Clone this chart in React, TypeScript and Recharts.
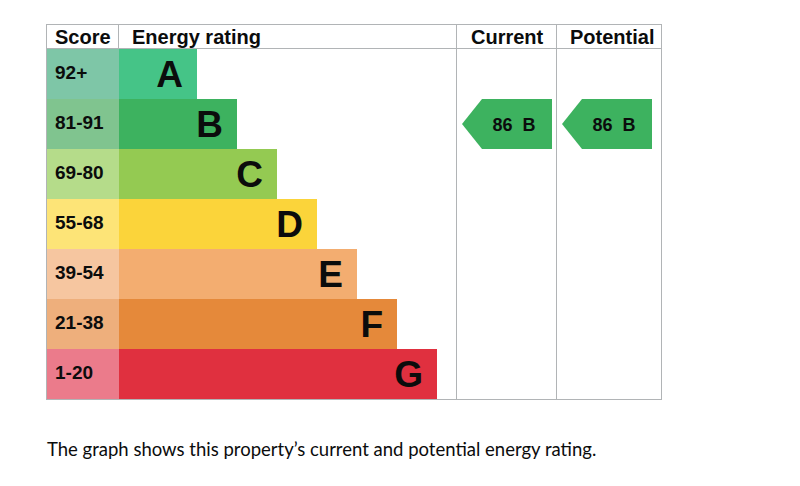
import React from "react";
import { BarChart, Bar, XAxis, YAxis, Cell, LabelList } from "recharts";

// bands, top to bottom
const bands = ["A", "B", "C", "D", "E", "F", "G"];
const scoreRanges = ["92+", "81-91", "69-80", "55-68", "39-54", "21-38", "1-20"];
// length of each rating bar (in px-sized units of the x axis)
const barLengths = [78, 118, 158, 198, 238, 278, 318];
const bandColors = ["#45c487", "#3db25f", "#94ca52", "#fbd43a", "#f3ad70", "#e5893a", "#e0303f"];
const scoreColors = ["#7ec6a7", "#80c48f", "#b5dc8a", "#fde477", "#f6c6a0", "#eeaf7c", "#eb7b8b"];

const currentRating = { score: 86, band: "B" };
const potentialRating = { score: 86, band: "B" };

// column widths on the same x axis
const scoreColWidth = 72;
const ratingColWidth = 338;
const currentColWidth = 100;
const potentialColWidth = 104;

const W = 800;
const H = 486;
const LEFT = 47;
const TOP = 24;
const HEADER = 25;
const GRID = "#b1b4b6";
const FONT = "Arial, 'Liberation Sans', sans-serif";

const currentStart = ratingColWidth;
const potentialStart = ratingColWidth + currentColWidth;
const totalWidth = ratingColWidth + currentColWidth + potentialColWidth;

const data = bands.map((band, i) => ({
  band,
  range: scoreRanges[i],
  score: [-scoreColWidth, 0],
  rating: barLengths[i],
  current: band === currentRating.band ? [currentStart + 5, currentStart + currentColWidth - 5] : null,
  potential: band === potentialRating.band ? [potentialStart + 5, potentialStart + potentialColWidth - 9] : null,
  color: bandColors[i],
  light: scoreColors[i],
}));

const Arrow = (rating: { score: number; band: string }) => (props: any) => {
  const { x, y, width, height, payload } = props;
  if (!width || !height) return null;
  const tip = 20;
  const pts = [
    [x, y + height / 2],
    [x + tip, y],
    [x + width, y],
    [x + width, y + height],
    [x + tip, y + height],
  ]
    .map((p) => p.join(","))
    .join(" ");
  return (
    <g>
      <polygon points={pts} fill={payload.color} />
      <text
        x={x + width / 2 + 7}
        y={y + height / 2 + 7}
        textAnchor="middle"
        fontFamily={FONT}
        fontWeight="bold"
        fontSize={18}
        fill="#0b0c0c"
      >
        {`${rating.score}\u00a0\u00a0${rating.band}`}
      </text>
    </g>
  );
};

const LetterLabel = (props: any) => {
  const { x, y, width, height, value } = props;
  return (
    <text
      x={x + width - 14}
      y={y + height / 2 + 13}
      textAnchor="end"
      fontFamily={FONT}
      fontWeight="bold"
      fontSize={37}
      fill="#0b0c0c"
    >
      {value}
    </text>
  );
};

const RangeLabel = (props: any) => {
  const { x, y, height, value } = props;
  return (
    <text x={x + 8} y={y + height / 2 + 5} fontFamily={FONT} fontWeight="bold" fontSize={19} fill="#0b0c0c">
      {value}
    </text>
  );
};

const line = (style: React.CSSProperties): React.CSSProperties => ({
  position: "absolute",
  background: GRID,
  ...style,
});

const headText = (left: number, label: string) => (
  <div
    style={{
      position: "absolute",
      left,
      top: TOP + 1,
      height: HEADER - 1,
      lineHeight: `${HEADER - 1}px`,
      fontFamily: FONT,
      fontWeight: "bold",
      fontSize: 20,
      color: "#0b0c0c",
    }}
  >
    {label}
  </div>
);

export default function App() {
  const plotLeft = LEFT + scoreColWidth;
  const frameWidth = scoreColWidth + totalWidth;
  const rowsTop = TOP + HEADER;
  const rowsHeight = bands.length * 50;
  const bottom = rowsTop + rowsHeight;

  return (
    <div style={{ position: "absolute", left: 0, top: 0, width: W, height: H, background: "#fff" }}>
      {/* table frame and column rules */}
      <div style={line({ left: LEFT, top: TOP, width: frameWidth, height: 1 })} />
      <div style={line({ left: LEFT, top: rowsTop - 1, width: frameWidth, height: 1 })} />
      <div style={line({ left: LEFT, top: bottom, width: frameWidth, height: 1 })} />
      <div style={line({ left: LEFT - 1, top: TOP, width: 1, height: bottom - TOP + 1 })} />
      <div style={line({ left: plotLeft - 1, top: TOP, width: 1, height: HEADER })} />
      <div style={line({ left: plotLeft + currentStart - 1, top: TOP, width: 1, height: bottom - TOP + 1 })} />
      <div style={line({ left: plotLeft + potentialStart - 1, top: TOP, width: 1, height: bottom - TOP + 1 })} />
      <div style={line({ left: LEFT + frameWidth, top: TOP, width: 1, height: bottom - TOP + 1 })} />

      {headText(LEFT + 8, "Score")}
      {headText(plotLeft + 13, "Energy rating")}
      {headText(plotLeft + currentStart + 14, "Current")}
      {headText(plotLeft + potentialStart + 13, "Potential")}

      <div style={{ position: "absolute", left: 0, top: 0 }}>
        <BarChart
          width={W}
          height={H}
          data={data}
          layout="vertical"
          barCategoryGap={0}
          margin={{ top: rowsTop, left: LEFT, right: W - LEFT - frameWidth, bottom: H - bottom }}
        >
          <XAxis type="number" domain={[-scoreColWidth, totalWidth]} hide allowDataOverflow />
          <YAxis yAxisId="score" type="category" dataKey="band" hide />
          <YAxis yAxisId="rating" type="category" dataKey="band" hide />
          <YAxis yAxisId="current" type="category" dataKey="band" hide />
          <YAxis yAxisId="potential" type="category" dataKey="band" hide />
          <Bar yAxisId="score" dataKey="score" isAnimationActive={false}>
            {data.map((d) => (
              <Cell key={d.band} fill={d.light} />
            ))}
            <LabelList dataKey="range" content={RangeLabel} />
          </Bar>
          <Bar yAxisId="rating" dataKey="rating" isAnimationActive={false}>
            {data.map((d) => (
              <Cell key={d.band} fill={d.color} />
            ))}
            <LabelList dataKey="band" content={LetterLabel} />
          </Bar>
          <Bar yAxisId="current" dataKey="current" isAnimationActive={false} shape={Arrow(currentRating)} />
          <Bar yAxisId="potential" dataKey="potential" isAnimationActive={false} shape={Arrow(potentialRating)} />
        </BarChart>
      </div>

      <div
        style={{
          position: "absolute",
          left: LEFT,
          top: 437,
          fontFamily: "Lato, sans-serif",
          fontSize: 18.5,
          lineHeight: "24px",
          color: "#0b0c0c",
        }}
      >
        The graph shows this property’s current and potential energy rating.
      </div>
    </div>
  );
}
